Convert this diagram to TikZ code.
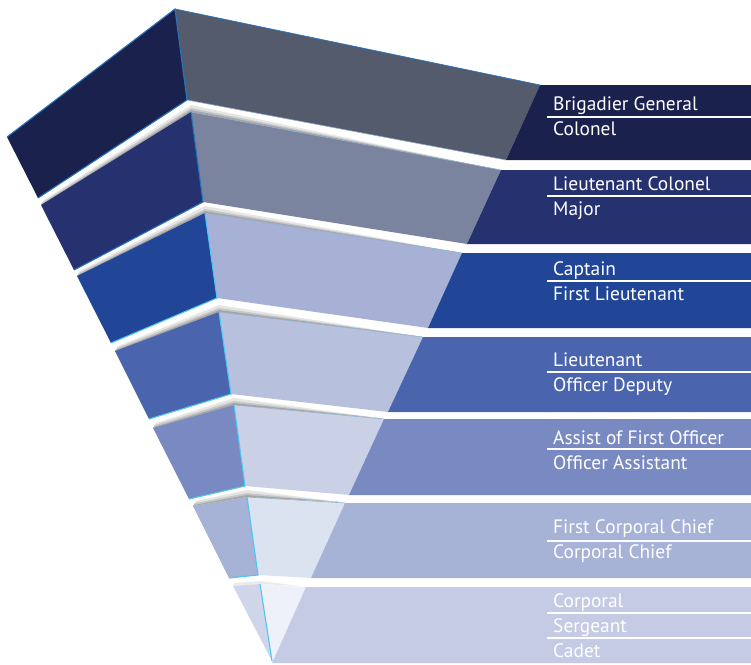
\documentclass[tikz,border=0pt]{standalone}
\usepackage{fontspec}
\setmainfont{PT Sans}
\usetikzlibrary{calc}
\definecolor{bandA}{HTML}{1B214D}\definecolor{faceA}{HTML}{545B6C}
\definecolor{bandB}{HTML}{26326F}\definecolor{faceB}{HTML}{7A849F}
\definecolor{bandC}{HTML}{214597}\definecolor{faceC}{HTML}{A6B1D5}
\definecolor{bandD}{HTML}{4A65AD}\definecolor{faceD}{HTML}{B7C1DE}
\definecolor{bandE}{HTML}{7989C1}\definecolor{faceE}{HTML}{CAD1E6}
\definecolor{bandF}{HTML}{A6B2D6}\definecolor{faceF}{HTML}{DCE3F0}
\definecolor{sideG}{HTML}{D0D6EA}\definecolor{faceG}{HTML}{EEF1F9}\definecolor{bandG}{HTML}{C5CBE4}
\definecolor{edgeblue}{HTML}{2474BE}
\definecolor{edgecyan}{HTML}{4CC6F2}
\definecolor{topline}{HTML}{8FB0CC}
\tikzset{
  rank/.style={text=white, anchor=base west, inner sep=0pt, font=\fontsize{19.4}{19.4}\selectfont},
  rule/.style={draw=white, line width=1.3pt},
  edgeB/.style={draw=edgeblue, line width=1.1pt},
  edgeC/.style={draw=edgecyan, line width=1.1pt},
  topedge/.style={draw=topline, line width=0.6pt}
}
\newcommand{\shadowstrip}[3]{%
  \fill[black!10] (#1) -- (#2) -- (#3) -- ($(#2)+(0,-7)$) -- ($(#1)+(3,-5)$) -- cycle;
  \fill[black!22] (#1) -- (#2) -- (#3) -- ($(#2)+(0,-4)$) -- ($(#1)+(2,-3)$) -- cycle;
  \fill[black!35] (#1) -- (#2) -- (#3) -- ($(#2)+(0,-2)$) -- ($(#1)+(1,-1)$) -- cycle;}
\begin{document}
\begin{tikzpicture}[x=1pt,y=-1pt]
\useasboundingbox (0,0) rectangle (751,664);
% shadows cast above levels 2..7
\shadowstrip{41,205}{191,112}{495,169}
\shadowstrip{77,276}{205,213}{456,252}
\shadowstrip{115,351}{219,312}{416,336}
\shadowstrip{153,428}{234,405}{378,418}
\shadowstrip{193,506}{247,497}{340,502}
\fill[black!8] (233,586) -- (260,584) -- (300,586) -- (260,581) -- (234,583) -- cycle;
% Level 1
\fill[bandA] (175,9) -- (7,137) -- (38,198) -- (187,100) -- cycle;
\fill[faceA] (175,9) -- (540,85) -- (506,160) -- (187,100) -- cycle;
\fill[bandA] (540,85) -- (751,85) -- (751,160) -- (506,160) -- cycle;
\draw[edgeB] (7,137) -- (175,9) -- (187,100) -- (38,198);
\draw[edgeB, line width=0.7pt] (175,9) -- (540,85);
\draw[topedge] (187,100) -- (506,160);
% Level 2
\fill[bandB] (191,112) -- (41,205) -- (74,270) -- (203,202) -- cycle;
\fill[faceB] (191,112) -- (501,170) -- (467,244) -- (203,202) -- cycle;
\fill[bandB] (501,170) -- (751,170) -- (751,244) -- (467,244) -- cycle;
\draw[edgeB] (191,112) -- (203,202) -- (74,270);
\draw[topedge] (191,112) -- (501,170);
% Level 3
\fill[bandC] (205,213) -- (77,276) -- (111,343) -- (217,298) -- cycle;
\fill[faceC] (205,213) -- (462,253) -- (428,328) -- (217,298) -- cycle;
\fill[bandC] (462,253) -- (751,253) -- (751,328) -- (428,328) -- cycle;
\draw[edgeC] (205,213) -- (217,298) -- (111,343);
\draw[topedge] (205,213) -- (462,253);
% Level 4
\fill[bandD] (219,312) -- (115,351) -- (149,419) -- (231,394) -- cycle;
\fill[faceD] (219,312) -- (423,337) -- (388,412) -- (231,394) -- cycle;
\fill[bandD] (423,337) -- (751,337) -- (751,412) -- (388,412) -- cycle;
\draw[edgeC] (219,312) -- (231,394) -- (149,419);
\draw[topedge] (219,312) -- (423,337);
% Level 5
\fill[bandE] (234,405) -- (153,428) -- (189,499) -- (245,486) -- cycle;
\fill[faceE] (234,405) -- (384,419) -- (349,495) -- (245,486) -- cycle;
\fill[bandE] (384,419) -- (751,419) -- (751,495) -- (349,495) -- cycle;
\draw[edgeC] (234,405) -- (245,486) -- (189,499);
\draw[topedge] (234,405) -- (384,419);
% Level 6
\fill[bandF] (247,497) -- (193,506) -- (229,578) -- (258,575) -- cycle;
\fill[faceF] (247,497) -- (345,503) -- (311,578) -- (258,575) -- cycle;
\fill[bandF] (345,503) -- (751,503) -- (751,578) -- (311,578) -- cycle;
\draw[edgeC] (247,497) -- (258,575) -- (229,578);
\draw[topedge] (247,497) -- (345,503);
% Level 7
\fill[sideG] (260,584) -- (233,586) -- (272,661) -- cycle;
\fill[faceG] (260,584) -- (306,587) -- (272,662) -- cycle;
\fill[bandG] (306,587) -- (751,587) -- (751,663) -- (272,663) -- cycle;
\draw[edgeC] (260,584) -- (272,661);
% Texts
\node[rank] (t1a) at (553,110) {Brigadier General};
\draw[rule] (547,117) -- (751,117);
\node[rank] (t1b) at (553,135) {Colonel};
\node[rank] (t2a) at (553,190) {Lieutenant Colonel};
\draw[rule] (547,196) -- (751,196);
\node[rank] (t2b) at (553,215) {Major};
\node[rank] (t3a) at (553,275) {Captain};
\draw[rule] (547,281) -- (751,281);
\node[rank] (t3b) at (553,300) {First Lieutenant};
\node[rank] (t4a) at (553,366) {Lieutenant};
\draw[rule] (547,372) -- (751,372);
\node[rank] (t4b) at (553,391) {Officer Deputy};
\node[rank] (t5a) at (553,444) {Assist of First Officer};
\draw[rule] (547,449) -- (751,449);
\node[rank] (t5b) at (553,469) {Officer Assistant};
\node[rank] (t6a) at (553,533) {First Corporal Chief};
\draw[rule] (547,541) -- (751,541);
\node[rank] (t6b) at (553,558) {Corporal Chief};
\node[rank] (t7a) at (553,607) {Corporal};
\draw[rule] (547,613) -- (751,613);
\node[rank] (t7b) at (553,632) {Sergeant};
\draw[rule] (547,638) -- (751,638);
\node[rank] (t7c) at (553,657) {Cadet};
\end{tikzpicture}
\end{document}
